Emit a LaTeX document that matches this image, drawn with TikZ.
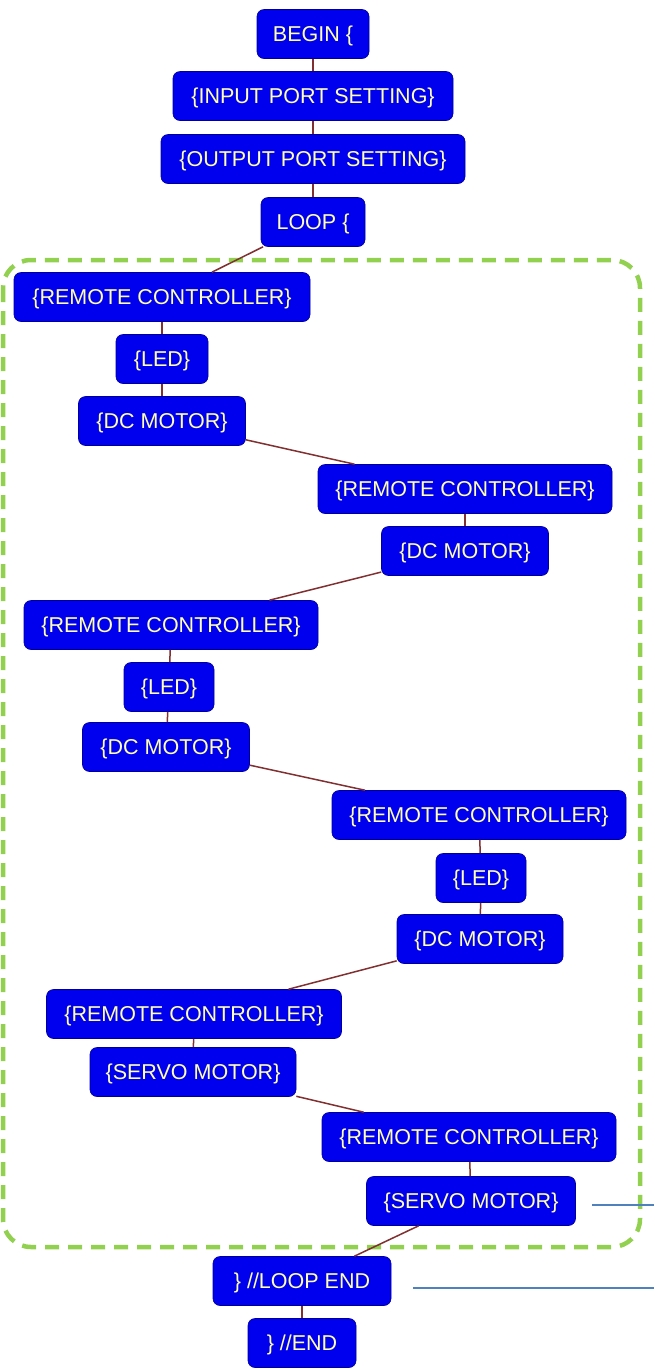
\documentclass[tikz,border=0pt]{standalone}
\usepackage{fontspec}
\setmainfont{Liberation Sans}
\definecolor{boxblue}{RGB}{0,0,238}
\definecolor{boxtext}{RGB}{255,255,180}
\definecolor{edgebrown}{RGB}{128,48,48}
\definecolor{loopgreen}{RGB}{146,208,80}
\definecolor{callblue}{RGB}{79,129,189}
\begin{document}
\begin{tikzpicture}[x=1pt,y=-1pt,
  blk/.style={draw={rgb,255:red,0;green,0;blue,150},line width=0.6pt,fill=boxblue,rounded corners=7pt,
    text=boxtext,font=\fontsize{21.5}{24}\selectfont,minimum height=49pt,inner sep=0pt,
    text height=16.5pt,text depth=1pt,anchor=center},
  conn/.style={draw=edgebrown,line width=1.5pt},
  callout/.style={draw=callblue,line width=2pt}]
\useasboundingbox (0,0) rectangle (654,1369);
\draw[loopgreen,line width=4.5pt,dash pattern=on 14pt off 9pt,rounded corners=28pt] (3,260) rectangle (640,1247);
\node[blk,minimum width=112pt] (begin) at (313,34) {BEGIN \{};
\node[blk,minimum width=280pt] (inp) at (313,96) {\{INPUT PORT SETTING\}};
\node[blk,minimum width=304pt] (outp) at (313,159) {\{OUTPUT PORT SETTING\}};
\node[blk,minimum width=104pt] (loop) at (313,222) {LOOP \{};
\node[blk,minimum width=296pt] (rc1) at (162,297) {\{REMOTE CONTROLLER\}};
\node[blk,minimum width=92pt] (led1) at (162,359) {\{LED\}};
\node[blk,minimum width=167pt] (dc1) at (162,421) {\{DC MOTOR\}};
\node[blk,minimum width=294pt] (rc2) at (465,489) {\{REMOTE CONTROLLER\}};
\node[blk,minimum width=167pt] (dc2) at (465,551) {\{DC MOTOR\}};
\node[blk,minimum width=294pt] (rc3) at (171,625) {\{REMOTE CONTROLLER\}};
\node[blk,minimum width=90pt] (led3) at (169,687) {\{LED\}};
\node[blk,minimum width=167pt] (dc3) at (166,747) {\{DC MOTOR\}};
\node[blk,minimum width=294pt] (rc4) at (479,815) {\{REMOTE CONTROLLER\}};
\node[blk,minimum width=90pt] (led4) at (481,878) {\{LED\}};
\node[blk,minimum width=166pt] (dc4) at (480,939) {\{DC MOTOR\}};
\node[blk,minimum width=295pt] (rc5) at (194,1014) {\{REMOTE CONTROLLER\}};
\node[blk,minimum width=206pt] (sv5) at (193,1072) {\{SERVO MOTOR\}};
\node[blk,minimum width=294pt] (rc6) at (469,1137) {\{REMOTE CONTROLLER\}};
\node[blk,minimum width=209pt] (sv6) at (471,1201) {\{SERVO MOTOR\}};
\node[blk,minimum width=178pt] (lend) at (302,1281) {\} //LOOP END};
\node[blk,minimum width=108pt] (end) at (302,1343) {\} //END};
\foreach \a/\b in {begin/inp,inp/outp,outp/loop,loop/rc1,rc1/led1,led1/dc1,dc1/rc2,rc2/dc2,dc2/rc3,rc3/led3,led3/dc3,dc3/rc4,rc4/led4,led4/dc4,dc4/rc5,rc5/sv5,sv5/rc6,rc6/sv6,sv6/lend,lend/end}
  \draw[conn] (\a) -- (\b);
\coordinate (c1) at (654,1205);
\coordinate (c2) at (654,1288);
\draw[callout] ([xshift=16pt]sv6.east |- c1) -- (c1);
\draw[callout] ([xshift=22pt]lend.east |- c2) -- (c2);
\end{tikzpicture}
\end{document}
